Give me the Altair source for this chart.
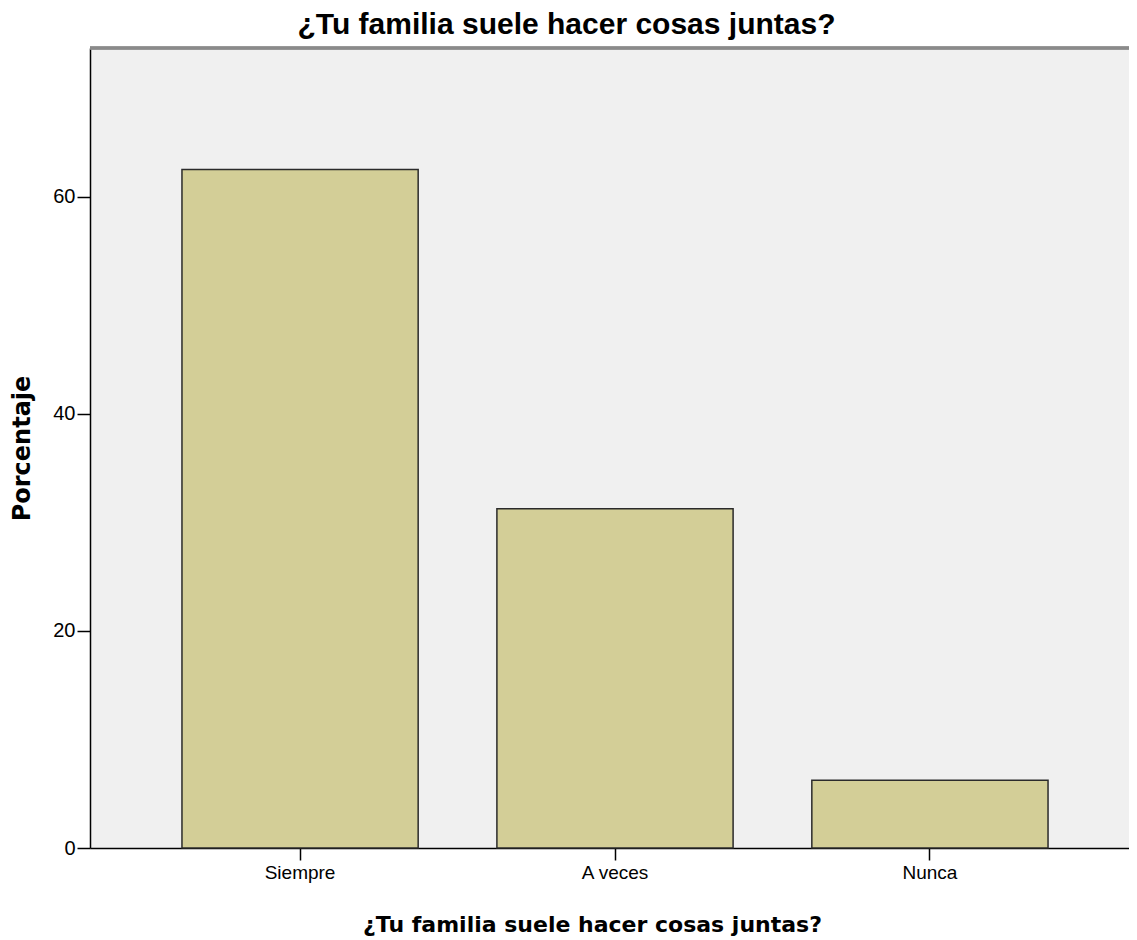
import altair as alt
import pandas as pd

categories = ["Siempre", "A veces", "Nunca"]
percentages = [62.5, 31.25, 6.25]
y_ticks = [0, 20, 40, 60]
title_text = "¿Tu familia suele hacer cosas juntas?"

df = pd.DataFrame({"cat": categories, "pct": percentages})

W, H = 1039, 800

bars = alt.Chart(df).mark_bar(
    color="#d3ce97", stroke="#2b2b2b", strokeWidth=1.5
).encode(
    x=alt.X("cat:N", sort=categories,
            scale=alt.Scale(range=[0, 1050], paddingInner=0.25, paddingOuter=0.292),
            axis=alt.Axis(title=title_text, labelAngle=0, labelFont="Liberation Sans",
                          labelFontSize=19, labelColor="#000", labelPadding=3,
                          tickSize=12, tickColor="#000", tickWidth=1.5,
                          domainColor="#000", domainWidth=1.5,
                          titleFont="DejaVu Sans", titleFontWeight="bold", titleFontSize=22,
                          titleColor="#000", titleX=502, titleY=83,
                          titleBaseline="alphabetic", titleAlign="center")),
    y=alt.Y("pct:Q", scale=alt.Scale(domain=[0, 73.7], nice=False, zero=True),
            axis=alt.Axis(title="Porcentaje", values=y_ticks, grid=False,
                          labelFont="Liberation Sans", labelFontSize=20, labelColor="#000",
                          labelPadding=2, tickSize=13, tickColor="#000", tickWidth=1.5,
                          domainColor="#000", domainWidth=1.5,
                          titleFont="DejaVu Sans", titleFontWeight="bold", titleFontSize=24,
                          titleColor="#000", titleX=-61, titleY=H / 2,
                          titleBaseline="alphabetic", titleAlign="center")),
)

top_border = alt.Chart(df).mark_rule(color="#8a8a8a", strokeWidth=3).encode(
    x=alt.value(0), x2=alt.value(W), y=alt.value(0)
)

chart = alt.layer(bars, top_border).properties(
    width=W, height=H,
    autosize=alt.AutoSizeParams(type="none"),
    padding={"left": 82, "top": 40, "right": 0, "bottom": 92},
    title=alt.TitleParams(title_text, font="Liberation Sans", fontWeight="bold", fontSize=30,
                          color="#000", anchor="middle", frame="group", dx=-43,
                          offset=7),
).configure_view(fill="#f0f0f0", stroke=None)

chart.save("out.html", embed_options={"renderer": "svg", "actions": False})
